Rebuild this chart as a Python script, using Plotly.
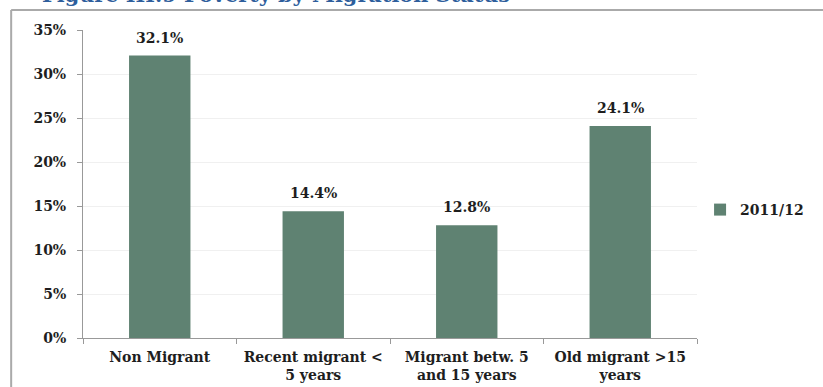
import plotly.graph_objects as go

categories = ["Non Migrant", "Recent migrant <<br>5 years", "Migrant betw. 5<br>and 15 years", "Old migrant >15<br>years"]
values = [32.1, 14.4, 12.8, 24.1]
value_labels = ["32.1%", "14.4%", "12.8%", "24.1%"]
series_name = "2011/12"
y_ticks = [0, 5, 10, 15, 20, 25, 30, 35]
y_tick_labels = ["0%", "5%", "10%", "15%", "20%", "25%", "30%", "35%"]
title_text = "Figure III.9 Poverty by Migration Status"

FONT = "DejaVu Serif"
BAR = "#5f8272"
TXT = "#1e1e1e"

def f(size, color=TXT):
    return dict(family=FONT, size=size, color=color, weight="bold")

fig = go.Figure()
fig.add_trace(go.Bar(
    x=categories, y=values, name=series_name,
    marker=dict(color=BAR, line=dict(width=0)),
    showlegend=True,
))

# value labels above bars
for cat, v, lab in zip(categories, values, value_labels):
    fig.add_annotation(x=cat, y=v, text=lab, xref="x", yref="y",
                       yanchor="bottom", yshift=8, showarrow=False, font=f(14))

fig.update_layout(
    width=823, height=387,
    margin=dict(l=83, r=126, t=30, b=49, autoexpand=False),
    paper_bgcolor="white", plot_bgcolor="white",
    bargap=0.6,
    font=f(14),
    showlegend=True,
    legend=dict(x=1.005, xanchor="left", y=0.4156, yanchor="middle",
                font=f(14), bgcolor="rgba(0,0,0,0)"),
    xaxis=dict(showline=True, linecolor="#999999", linewidth=1,
               ticks="outside", tickson="boundaries", ticklen=5, tickcolor="#999999",
               ticklabelstandoff=6,
               tickfont=f(14), showgrid=False),
    yaxis=dict(range=[0, 35], tickvals=y_ticks, ticktext=y_tick_labels,
               showline=True, linecolor="#999999", linewidth=1,
               ticks="outside", ticklen=5, tickcolor="#999999",
               ticklabelstandoff=8,
               showgrid=True, gridcolor="#f0f0f0",
               tickfont=f(14), zeroline=False),
)

fig.add_annotation(text=title_text, xref="paper", yref="paper",
                   x=-0.070, xanchor="left", y=1.068, yanchor="bottom", showarrow=False,
                   font=dict(family=FONT, size=20.8, color="#2e5e9c", weight="bold"))

# outer frame (top and left edges)
fig.add_shape(type="line", xref="paper", yref="paper", x0=-0.117, x1=1.3, y0=1.065, y1=1.065,
              line=dict(color="#aaaaaa", width=2))
fig.add_shape(type="line", xref="paper", yref="paper", x0=-0.117, x1=-0.117, y0=1.065, y1=-0.2,
              line=dict(color="#aaaaaa", width=2))

fig.write_html("out.html", config={"displayModeBar": False},
               post_script="document.body.style.margin='0';")
